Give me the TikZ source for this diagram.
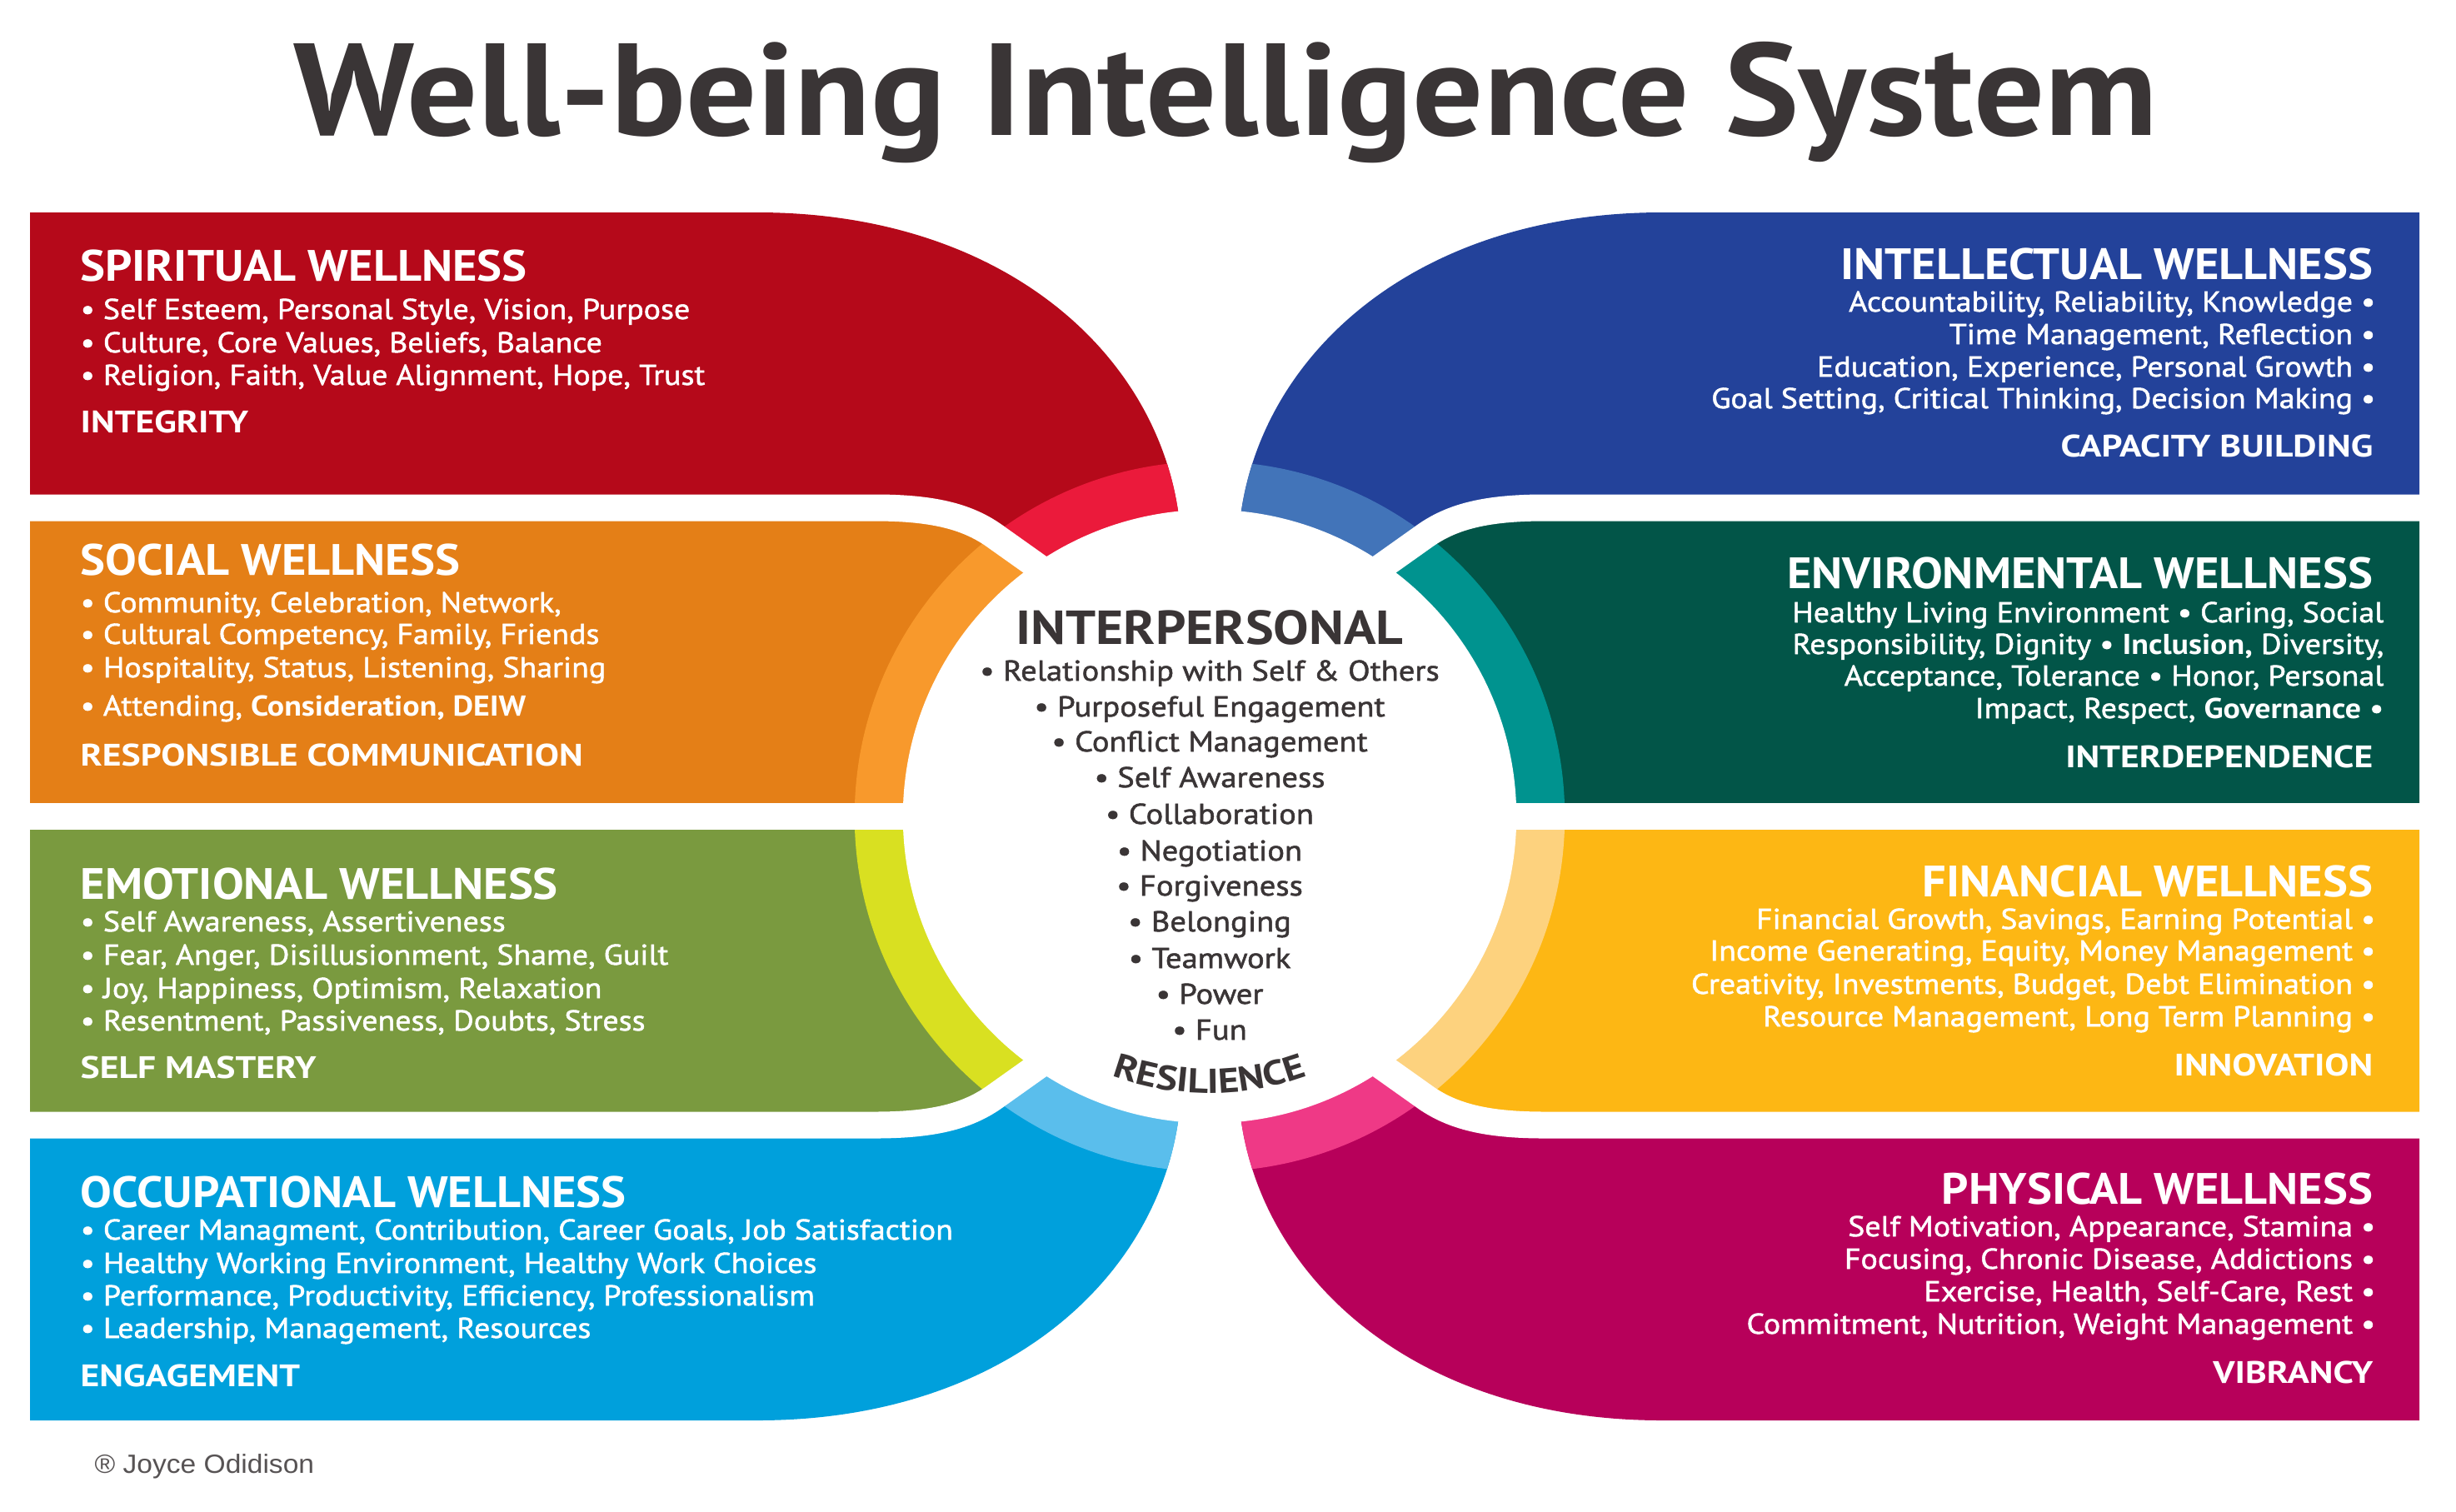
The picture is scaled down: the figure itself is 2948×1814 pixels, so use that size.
\documentclass[tikz,border=0pt]{standalone}
\usepackage{fontspec}
\setmainfont{PT Sans}
\newfontfamily\titlefont{PT Sans}[FakeStretch=1.07]
\newfontfamily\headfont{PT Sans}[FakeStretch=1.07]
\newfontfamily\footfont{PT Sans}[FakeStretch=1.17]
\newfontfamily\itemfont{PT Sans}[FakeBold=1.5, FakeStretch=1.10]
\newfontfamily\itemfontb{PT Sans}[FakeStretch=1.10]
\newfontfamily\midfont{PT Sans}[FakeBold=1.5, FakeStretch=1.12]
\newfontfamily\interfont{PT Sans}[FakeStretch=1.11]
\newfontfamily\resfont{PT Sans}[FakeStretch=1.16]
\newfontfamily\arialfont{Liberation Sans}[FakeStretch=1.06]
\usepackage{tikz}
\usetikzlibrary{calc,decorations.text}

\definecolor{ink}{HTML}{3A3536}
\definecolor{spiD}{HTML}{B5091A}
\definecolor{spiL}{HTML}{EB1A3B}
\definecolor{socD}{HTML}{E47F17}
\definecolor{socL}{HTML}{F8992C}
\definecolor{emoD}{HTML}{7A9A3F}
\definecolor{emoL}{HTML}{D9E021}
\definecolor{occD}{HTML}{00A0DC}
\definecolor{occL}{HTML}{5ABEEC}
\definecolor{intD}{HTML}{23429A}
\definecolor{intL}{HTML}{4274B9}
\definecolor{envD}{HTML}{025548}
\definecolor{envL}{HTML}{00938F}
\definecolor{finD}{HTML}{FDB714}
\definecolor{finL}{HTML}{FDD27E}
\definecolor{phyD}{HTML}{B7005A}
\definecolor{phyL}{HTML}{EF3986}

\begin{document}
\begin{tikzpicture}[x=0.01cm, y=-0.01cm,
    head/.style={inner sep=0, text=white, font=\headfont\bfseries\fontsize{15}{18}\selectfont},
    item/.style={inner sep=0, text=white, font=\itemfont\fontsize{9.8}{12}\selectfont},
    foot/.style={inner sep=0, text=white, font=\footfont\bfseries\fontsize{10.6}{13}\selectfont},
    mid/.style={inner sep=0, text=ink, anchor=base, font=\midfont\fontsize{9.8}{12}\selectfont},
    gap/.style={draw=white, line width=0.32cm}]
    \useasboundingbox (0,0) rectangle (2948,1814);
    \fill[white] (0,0) rectangle (2948,1814);
    \coordinate (ctr) at (1452,980);
    \coordinate (res) at (1452,972);

    % left boxes
    \fill[spiD, path picture={\fill[spiL] (ctr) circle (4.26cm);}]
        (36,255) -- (909,255) .. controls (1200,255) and (1385,420) .. (1414,613) -- (1452,980)
        -- (1330,740) -- (1192,642) .. controls (1160,620) and (1120,609.5) .. (1050,609.5) -- (36,609.5) -- cycle;
    \fill[socD, path picture={\fill[socL] (ctr) circle (4.26cm);}]
        (36,609.5) -- (1050,609.5) .. controls (1120,609.5) and (1160,620) .. (1192,642) -- (1330,740)
        -- (1452,980) -- (36,980) -- cycle;
    \fill[emoD, path picture={\fill[emoL] (ctr) circle (4.26cm);}]
        (36,980) -- (1452,980) -- (1330,1220) -- (1192,1318) .. controls (1160,1340) and (1120,1350.5) .. (1050,1350.5)
        -- (36,1350.5) -- cycle;
    \fill[occD, path picture={\fill[occL] (ctr) circle (4.26cm);}]
        (36,1350.5) -- (1050,1350.5) .. controls (1120,1350.5) and (1160,1340) .. (1192,1318) -- (1330,1220)
        -- (1452,980) -- (1414,1347) .. controls (1385,1540) and (1200,1705) .. (909,1705) -- (36,1705) -- cycle;

    % right boxes
    \fill[intD, path picture={\fill[intL] (ctr) circle (4.26cm);}]
        (2904,255) -- (1995,255) .. controls (1704,255) and (1519,420) .. (1490,613) -- (1452,980)
        -- (1574,740) -- (1712,642) .. controls (1744,620) and (1784,609.5) .. (1854,609.5) -- (2904,609.5) -- cycle;
    \fill[envD, path picture={\fill[envL] (ctr) circle (4.26cm);}]
        (2904,609.5) -- (1854,609.5) .. controls (1784,609.5) and (1744,620) .. (1712,642) -- (1574,740)
        -- (1452,980) -- (2904,980) -- cycle;
    \fill[finD, path picture={\fill[finL] (ctr) circle (4.26cm);}]
        (2904,980) -- (1452,980) -- (1574,1220) -- (1712,1318) .. controls (1744,1340) and (1784,1350.5) .. (1854,1350.5)
        -- (2904,1350.5) -- cycle;
    \fill[phyD, path picture={\fill[phyL] (ctr) circle (4.26cm);}]
        (2904,1350.5) -- (1854,1350.5) .. controls (1784,1350.5) and (1744,1340) .. (1712,1318) -- (1574,1220)
        -- (1452,980) -- (1490,1347) .. controls (1519,1540) and (1704,1705) .. (1995,1705) -- (2904,1705) -- cycle;

    % white hub and gaps
    \fill[white] (ctr) circle (3.68cm);
    \draw[gap] (30,980) -- (2910,980);
    \draw[gap] (30,609.5) -- (1050,609.5) .. controls (1120,609.5) and (1160,620) .. (1192,642) -- (1330,740);
    \draw[gap] (30,1350.5) -- (1050,1350.5) .. controls (1120,1350.5) and (1160,1340) .. (1192,1318) -- (1330,1220);
    \draw[gap] (2910,609.5) -- (1854,609.5) .. controls (1784,609.5) and (1744,620) .. (1712,642) -- (1574,740);
    \draw[gap] (2910,1350.5) -- (1854,1350.5) .. controls (1784,1350.5) and (1744,1340) .. (1712,1318) -- (1574,1220);

    % title
    \node[inner sep=0, anchor=base, text=ink, font=\titlefont\bfseries\fontsize{44.7}{50}\selectfont] (title) at (1471,162)
        {Well-being Intelligence System};

    % spiritual
    \node[head, anchor=base west] (spi) at (96,337) {SPIRITUAL WELLNESS};
    \node[item, anchor=base west] (spi-1) at (96,383) {• Self Esteem, Personal Style, Vision, Purpose};
    \node[item, anchor=base west] (spi-2) at (96,423) {• Culture, Core Values, Beliefs, Balance};
    \node[item, anchor=base west] (spi-3) at (96,462) {• Religion, Faith, Value Alignment, Hope, Trust};
    \node[foot, anchor=base west] (spi-f) at (96,519) {INTEGRITY};

    % social
    \node[head, anchor=base west] (soc) at (96,690) {SOCIAL WELLNESS};
    \node[item, anchor=base west] (soc-1) at (96,735) {• Community, Celebration, Network,};
    \node[item, anchor=base west] (soc-2) at (96,773) {• Cultural Competency, Family, Friends};
    \node[item, anchor=base west] (soc-3) at (96,813) {• Hospitality, Status, Listening, Sharing};
    \node[item, anchor=base west] (soc-4) at (96,859) {• Attending, {\itemfontb\bfseries Consideration, DEIW}};
    \node[foot, anchor=base west] (soc-f) at (96,919) {RESPONSIBLE COMMUNICATION};

    % emotional
    \node[head, anchor=base west] (emo) at (96,1079) {EMOTIONAL WELLNESS};
    \node[item, anchor=base west] (emo-1) at (96,1118) {• Self Awareness, Assertiveness};
    \node[item, anchor=base west] (emo-2) at (96,1158) {• Fear, Anger, Disillusionment, Shame, Guilt};
    \node[item, anchor=base west] (emo-3) at (96,1198) {• Joy, Happiness, Optimism, Relaxation};
    \node[item, anchor=base west] (emo-4) at (96,1237) {• Resentment, Passiveness, Doubts, Stress};
    \node[foot, anchor=base west] (emo-f) at (96,1294) {SELF MASTERY};

    % occupational
    \node[head, anchor=base west] (occ) at (96,1449) {OCCUPATIONAL WELLNESS};
    \node[item, anchor=base west] (occ-1) at (96,1488) {• Career Managment, Contribution, Career Goals, Job Satisfaction};
    \node[item, anchor=base west] (occ-2) at (96,1528) {• Healthy Working Environment, Healthy Work Choices};
    \node[item, anchor=base west] (occ-3) at (96,1567) {• Performance, Productivity, Efficiency, Professionalism};
    \node[item, anchor=base west] (occ-4) at (96,1606) {• Leadership, Management, Resources};
    \node[foot, anchor=base west] (occ-f) at (96,1664) {ENGAGEMENT};

    % intellectual
    \node[head, anchor=base east] (int) at (2849,335) {INTELLECTUAL WELLNESS};
    \node[item, anchor=base east] (int-1) at (2852,374) {Accountability, Reliability, Knowledge •};
    \node[item, anchor=base east] (int-2) at (2852,413) {Time Management, Reflection •};
    \node[item, anchor=base east] (int-3) at (2852,452) {Education, Experience, Personal Growth •};
    \node[item, anchor=base east] (int-4) at (2852,490) {Goal Setting, Critical Thinking, Decision Making •};
    \node[foot, anchor=base east] (int-f) at (2849,548) {CAPACITY BUILDING};

    % environmental
    \node[head, anchor=base east] (env) at (2849,706) {ENVIRONMENTAL WELLNESS};
    \node[item, anchor=base east] (env-1) at (2862,747) {Healthy Living Environment • Caring, Social};
    \node[item, anchor=base east] (env-2) at (2862,785) {Responsibility, Dignity • {\itemfontb\bfseries Inclusion,} Diversity,};
    \node[item, anchor=base east] (env-3) at (2862,823) {Acceptance, Tolerance • Honor, Personal};
    \node[item, anchor=base east] (env-4) at (2862,862) {Impact, Respect, {\itemfontb\bfseries Governance} •};
    \node[foot, anchor=base east] (env-f) at (2849,921) {INTERDEPENDENCE};

    % financial
    \node[head, anchor=base east] (fin) at (2849,1076) {FINANCIAL WELLNESS};
    \node[item, anchor=base east] (fin-1) at (2852,1115) {Financial Growth, Savings, Earning Potential •};
    \node[item, anchor=base east] (fin-2) at (2852,1153) {Income Generating, Equity, Money Management •};
    \node[item, anchor=base east] (fin-3) at (2852,1193) {Creativity, Investments, Budget, Debt Elimination •};
    \node[item, anchor=base east] (fin-4) at (2852,1232) {Resource Management, Long Term Planning •};
    \node[foot, anchor=base east] (fin-f) at (2849,1291) {INNOVATION};

    % physical
    \node[head, anchor=base east] (phy) at (2849,1445) {PHYSICAL WELLNESS};
    \node[item, anchor=base east] (phy-1) at (2852,1484) {Self Motivation, Appearance, Stamina •};
    \node[item, anchor=base east] (phy-2) at (2852,1523) {Focusing, Chronic Disease, Addictions •};
    \node[item, anchor=base east] (phy-3) at (2852,1562) {Exercise, Health, Self-Care, Rest •};
    \node[item, anchor=base east] (phy-4) at (2852,1601) {Commitment, Nutrition, Weight Management •};
    \node[foot, anchor=base east] (phy-f) at (2849,1660) {VIBRANCY};

    % centre
    \node[inner sep=0, anchor=base, text=ink, font=\interfont\bfseries\fontsize{16.3}{19}\selectfont] (inter) at (1452,773) {INTERPERSONAL};
    \node[mid] (m1) at (1452,817) {• Relationship with Self \& Others};
    \node[mid] (m2) at (1452,860) {• Purposeful Engagement};
    \node[mid] (m3) at (1452,902) {• Conflict Management};
    \node[mid] (m4) at (1452,945) {• Self Awareness};
    \node[mid] (m5) at (1452,989) {• Collaboration};
    \node[mid] (m6) at (1452,1033) {• Negotiation};
    \node[mid] (m7) at (1452,1075) {• Forgiveness};
    \node[mid] (m8) at (1452,1118) {• Belonging};
    \node[mid] (m9) at (1452,1162) {• Teamwork};
    \node[mid] (m10) at (1452,1205) {• Power};
    \node[mid] (m11) at (1452,1248) {• Fun};
    \path[decorate, decoration={text along path, text align=center, text color=ink,
        text={|\resfont\bfseries\fontsize{11.8}{14}\selectfont|RESILIENCE}}]
        ($(res)+(240:3.4cm)$) arc[start angle=240, end angle=300, radius=3.4cm];

    \node[inner sep=0, anchor=base west, text=ink!85, font=\arialfont\fontsize{9}{11}\selectfont] (copy) at (113,1768)
        {® Joyce Odidison};
\end{tikzpicture}
\end{document}
